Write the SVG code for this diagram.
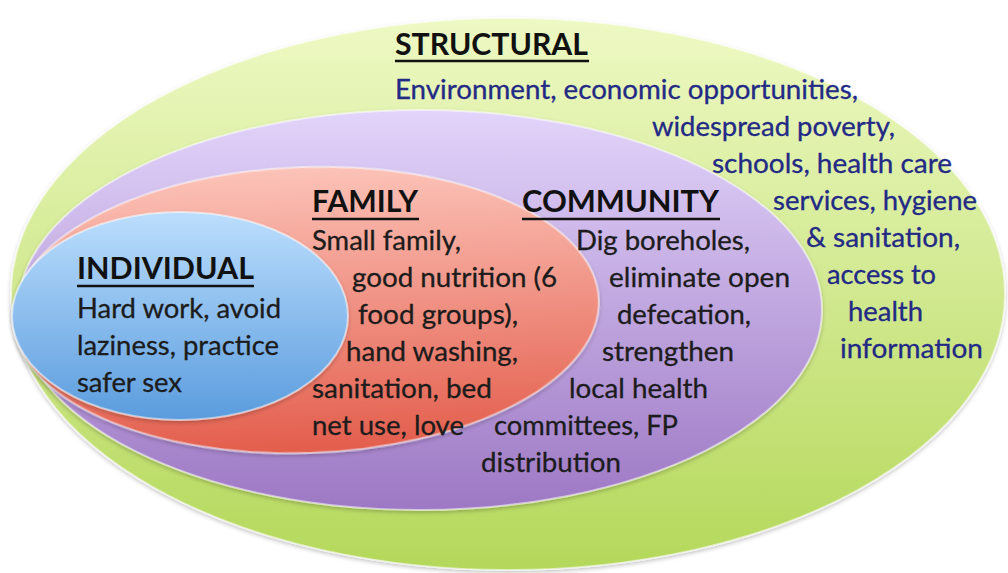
<svg xmlns="http://www.w3.org/2000/svg" width="1008" height="573" viewBox="0 0 1008 573">
<defs>
<linearGradient id="gGreen" x1="0" y1="0" x2="0" y2="1"><stop offset="0" stop-color="#eef9c4"/><stop offset="1" stop-color="#b4d85a"/></linearGradient>
<linearGradient id="gPurple" x1="0" y1="0" x2="0" y2="1"><stop offset="0" stop-color="#e2d4fa"/><stop offset="1" stop-color="#9d78c4"/></linearGradient>
<linearGradient id="gRed" x1="0" y1="0" x2="0" y2="1"><stop offset="0" stop-color="#fcc3b8"/><stop offset="1" stop-color="#e35d4c"/></linearGradient>
<linearGradient id="gBlue" x1="0" y1="0" x2="0" y2="1"><stop offset="0" stop-color="#bcdefd"/><stop offset="1" stop-color="#5a9cde"/></linearGradient>
<filter id="soft" x="-5%" y="-5%" width="110%" height="110%"><feGaussianBlur in="SourceAlpha" stdDeviation="2"/><feOffset dx="0" dy="2"/><feComponentTransfer><feFuncA type="linear" slope="0.25"/></feComponentTransfer><feMerge><feMergeNode/><feMergeNode in="SourceGraphic"/></feMerge></filter>
</defs>
<style>
.rim{stroke:#ffffff;stroke-opacity:0.55;stroke-width:2}
.h{font-family:Lato,"Liberation Sans",sans-serif;font-weight:bold;font-size:31px;fill:#111111}
.t{font-family:Lato,"Liberation Sans",sans-serif;font-size:26px;fill:#1c1c1c;stroke:#1c1c1c;stroke-width:0.3}
.s{font-family:Lato,"Liberation Sans",sans-serif;font-size:26px;fill:#232a86;stroke:#232a86;stroke-width:0.3}
.u{stroke:#111111;stroke-width:2.5}
</style>
<rect width="1008" height="573" fill="#ffffff"/>
<g id="connectors"/>
<g id="structural">
<ellipse cx="508" cy="294" rx="497" ry="276" fill="url(#gGreen)" class="rim" filter="url(#soft)"/>
<text class="h" x="395" y="55" textLength="193" lengthAdjust="spacingAndGlyphs">STRUCTURAL</text>
<line class="u" x1="395" y1="61" x2="589" y2="61"/>
<text class="s" x="395" y="99" textLength="463" lengthAdjust="spacingAndGlyphs">Environment, economic opportunities,</text>
<text class="s" x="652" y="136" textLength="243" lengthAdjust="spacingAndGlyphs">widespread poverty,</text>
<text class="s" x="712" y="173" textLength="240" lengthAdjust="spacingAndGlyphs">schools, health care</text>
<text class="s" x="773" y="210" textLength="204" lengthAdjust="spacingAndGlyphs">services, hygiene</text>
<text class="s" x="806" y="247" textLength="154" lengthAdjust="spacingAndGlyphs">&amp; sanitation,</text>
<text class="s" x="827" y="284" textLength="109" lengthAdjust="spacingAndGlyphs">access to</text>
<text class="s" x="848" y="321" textLength="75" lengthAdjust="spacingAndGlyphs">health</text>
<text class="s" x="840" y="358" textLength="143" lengthAdjust="spacingAndGlyphs">information</text>
</g>
<g id="community">
<ellipse cx="420" cy="310" rx="402" ry="200" fill="url(#gPurple)" class="rim" filter="url(#soft)"/>
</g>
<g id="family">
<ellipse cx="306" cy="310" rx="293" ry="143" fill="url(#gRed)" class="rim" filter="url(#soft)" transform="rotate(-2 306 310)"/>
</g>
<g id="individual">
<ellipse cx="180" cy="316" rx="168" ry="104" fill="url(#gBlue)" class="rim" filter="url(#soft)"/>
<text class="h" x="77" y="279" textLength="177" lengthAdjust="spacingAndGlyphs">INDIVIDUAL</text>
<line class="u" x1="77" y1="286" x2="254" y2="286"/>
<text class="t" x="77" y="318" textLength="204" lengthAdjust="spacingAndGlyphs">Hard work, avoid</text>
<text class="t" x="77" y="355" textLength="202" lengthAdjust="spacingAndGlyphs">laziness, practice</text>
<text class="t" x="77" y="392" textLength="105" lengthAdjust="spacingAndGlyphs">safer sex</text>
</g>
<g id="family-text">
<text class="h" x="312" y="212" textLength="106" lengthAdjust="spacingAndGlyphs">FAMILY</text>
<line class="u" x1="312" y1="219" x2="419" y2="219"/>
<text class="t" x="312" y="250" textLength="149" lengthAdjust="spacingAndGlyphs">Small family,</text>
<text class="t" x="352" y="287" textLength="205" lengthAdjust="spacingAndGlyphs">good nutrition (6</text>
<text class="t" x="358" y="324" textLength="160" lengthAdjust="spacingAndGlyphs">food groups),</text>
<text class="t" x="346" y="361" textLength="172" lengthAdjust="spacingAndGlyphs">hand washing,</text>
<text class="t" x="312" y="398" textLength="180" lengthAdjust="spacingAndGlyphs">sanitation, bed</text>
<text class="t" x="312" y="435" textLength="152" lengthAdjust="spacingAndGlyphs">net use, love</text>
</g>
<g id="community-text">
<text class="h" x="522" y="212" textLength="197" lengthAdjust="spacingAndGlyphs">COMMUNITY</text>
<line class="u" x1="522" y1="219" x2="720" y2="219"/>
<text class="t" x="576" y="250" textLength="174" lengthAdjust="spacingAndGlyphs">Dig boreholes,</text>
<text class="t" x="609" y="287" textLength="181" lengthAdjust="spacingAndGlyphs">eliminate open</text>
<text class="t" x="617" y="324" textLength="134" lengthAdjust="spacingAndGlyphs">defecation,</text>
<text class="t" x="602" y="361" textLength="132" lengthAdjust="spacingAndGlyphs">strengthen</text>
<text class="t" x="569" y="398" textLength="139" lengthAdjust="spacingAndGlyphs">local health</text>
<text class="t" x="494" y="435" textLength="184" lengthAdjust="spacingAndGlyphs">committees, FP</text>
<text class="t" x="481" y="472" textLength="140" lengthAdjust="spacingAndGlyphs">distribution</text>
</g>
</svg>
